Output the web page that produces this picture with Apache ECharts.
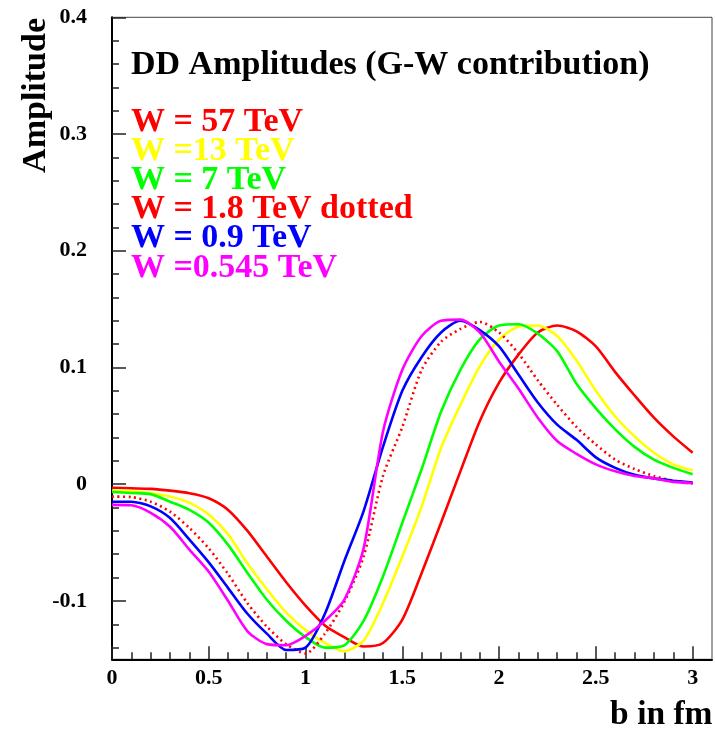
<!DOCTYPE html>
<html>
<head>
<meta charset="utf-8">
<script src="https://cdn.jsdelivr.net/npm/echarts@6/dist/echarts.min.js"></script>
<style>
html,body{margin:0;padding:0;background:#fff;}
#chart{width:715px;height:732px;}
</style>
</head>
<body>
<div id="chart"></div>
<script>
// impact parameter b (fm)
const bValues = [0,0.1,0.2,0.3,0.4,0.5,0.6,0.7,0.8,0.9,1.0,1.1,1.2,1.3,1.4,1.5,1.6,1.7,1.8,1.9,2.0,2.1,2.2,2.3,2.4,2.5,2.6,2.7,2.8,2.9,3.0];

// W = 57 TeV (red solid)
const w57 = [-0.003,-0.0035,-0.004,-0.0055,-0.0077,-0.012,-0.022,-0.040,-0.062,-0.084,-0.104,-0.121,-0.131,-0.139,-0.136,-0.116,-0.076,-0.033,0.011,0.054,0.087,0.111,0.130,0.136,0.131,0.118,0.096,0.076,0.057,0.041,0.027];
// W = 13 TeV (yellow)
const w13 = [-0.0055,-0.006,-0.0075,-0.0106,-0.016,-0.026,-0.043,-0.068,-0.090,-0.110,-0.125,-0.136,-0.143,-0.134,-0.102,-0.062,-0.019,0.031,0.068,0.101,0.124,0.135,0.136,0.127,0.106,0.080,0.058,0.041,0.027,0.017,0.0117];
// W = 7 TeV (green)
const w7 = [-0.0066,-0.0075,-0.0085,-0.015,-0.022,-0.033,-0.052,-0.076,-0.099,-0.117,-0.131,-0.140,-0.138,-0.117,-0.079,-0.033,0.013,0.062,0.098,0.124,0.136,0.137,0.129,0.114,0.086,0.065,0.047,0.032,0.021,0.014,0.0086];
// W = 1.8 TeV (red dotted)
const w18 = [-0.0106,-0.011,-0.015,-0.0235,-0.0375,-0.055,-0.077,-0.102,-0.122,-0.137,-0.145,-0.128,-0.101,-0.062,0.007,0.049,0.098,0.122,0.133,0.139,0.130,0.112,0.089,0.068,0.049,0.034,0.021,0.013,0.007,0.003,0.0005];
// W = 0.9 TeV (blue)
const w09 = [-0.015,-0.015,-0.019,-0.029,-0.0475,-0.067,-0.089,-0.111,-0.128,-0.142,-0.140,-0.111,-0.066,-0.023,0.032,0.080,0.109,0.130,0.140,0.132,0.118,0.094,0.070,0.051,0.038,0.023,0.014,0.008,0.005,0.003,0.0014];
// W = 0.545 TeV (magenta)
const w0545 = [-0.0177,-0.018,-0.0245,-0.0365,-0.056,-0.075,-0.100,-0.126,-0.137,-0.138,-0.130,-0.117,-0.099,-0.055,0.045,0.098,0.127,0.140,0.141,0.130,0.105,0.082,0.057,0.037,0.026,0.017,0.011,0.007,0.005,0.002,0.001];

// axis ticks / labels
const xMajorTicks = [0,0.5,1,1.5,2,2.5,3];
const yMajorTicks = [-0.1,0,0.1,0.2,0.3,0.4];
const xMinorTicks = [];
for (let i = 0; i <= 30; i++) xMinorTicks.push(+(i*0.1).toFixed(2));
const yMinorTicks = [];
for (let i = -7; i <= 20; i++) yMinorTicks.push(+(i*0.02).toFixed(3));

const legendTexts = ['W = 57 TeV','W =13 TeV','W = 7 TeV','W = 1.8 TeV dotted','W = 0.9 TeV','W =0.545 TeV'];
const colors = ['#ff0000','#ffff00','#00ff00','#ff0000','#0000ff','#ff00ff'];
const seriesData = [w57,w13,w7,w18,w09,w0545];

const FONT = '"Liberation Serif", "DejaVu Serif", serif';

const chart = echarts.init(document.getElementById('chart'), null, {renderer:'canvas'});

const series = seriesData.map((arr, i) => ({
  type: 'line',
  xAxisIndex: 0,
  yAxisIndex: 0,
  data: bValues.map((b, k) => [b, arr[k]]),
  showSymbol: false,
  smooth: 0.25,
  clip: true,
  lineStyle: {
    color: colors[i],
    width: 2.6,
    type: i === 3 ? [2, 3.5] : 'solid'
  },
  z: 3
}));

const graphics = [];
graphics.push({
  type: 'text', x: 131, y: 65.6,
  style: {text: 'DD Amplitudes (G-W contribution)', fill: '#000', font: 'bold 34px ' + FONT, textAlign: 'left', verticalAlign: 'middle'}
});
const baseLines = [133.3, 162.5, 191.7, 220.9, 250.1, 279.3];
legendTexts.forEach((t, i) => {
  graphics.push({
    type: 'text', x: 131, y: baseLines[i] - 11.4,
    style: {text: t, fill: colors[i], font: 'bold 34px ' + FONT, textAlign: 'left', verticalAlign: 'middle'}
  });
});
graphics.push({
  type: 'text', x: 712.5, y: 726.7 - 11.3,
  style: {text: 'b in fm', fill: '#000', font: 'bold 33.5px ' + FONT, textAlign: 'right', verticalAlign: 'middle'}
});
graphics.push({
  type: 'text', x: 36.5, y: 18, rotation: Math.PI/2,
  style: {text: 'Amplitude', fill: '#000', font: 'bold 34px ' + FONT, textAlign: 'right', verticalAlign: 'middle'}
});

const option = {
  animation: false,
  backgroundColor: '#ffffff',
  grid: {left: 112, top: 17.3, right: 3, bottom: 72.7, show: true, borderColor: '#444', borderWidth: 1, backgroundColor: 'transparent'},
  xAxis: [
    {
      type: 'value', min: 0, max: 3.1, position: 'bottom',
      axisLine: {show: true, onZero: false, lineStyle: {color: '#000', width: 2}},
      axisTick: {show: true, inside: true, length: 13, customValues: xMajorTicks, lineStyle: {color: '#222', width: 1.5}},
      axisLabel: {show: true, customValues: xMajorTicks, margin: 8, color: '#000', fontFamily: FONT, fontWeight: 'bold', fontSize: 22},
      splitLine: {show: false}
    },
    {
      type: 'value', min: 0, max: 3.1, position: 'bottom',
      axisLine: {show: false, onZero: false},
      axisTick: {show: true, inside: true, length: 7, customValues: xMinorTicks, lineStyle: {color: '#222', width: 1.5}},
      axisLabel: {show: false},
      splitLine: {show: false}
    }
  ],
  yAxis: [
    {
      type: 'value', min: -0.15, max: 0.4, position: 'left',
      axisLine: {show: true, onZero: false, lineStyle: {color: '#000', width: 2}},
      axisTick: {show: true, inside: true, length: 14, customValues: yMajorTicks, lineStyle: {color: '#222', width: 1.5}},
      axisLabel: {show: true, customValues: yMajorTicks, margin: 25, color: '#000', fontFamily: FONT, fontWeight: 'bold', fontSize: 22},
      splitLine: {show: false}
    },
    {
      type: 'value', min: -0.15, max: 0.4, position: 'left',
      axisLine: {show: false, onZero: false},
      axisTick: {show: true, inside: true, length: 7, customValues: yMinorTicks, lineStyle: {color: '#222', width: 1.5}},
      axisLabel: {show: false},
      splitLine: {show: false}
    }
  ],
  series: series,
  graphic: graphics
};
chart.setOption(option);
</script>
</body>
</html>
